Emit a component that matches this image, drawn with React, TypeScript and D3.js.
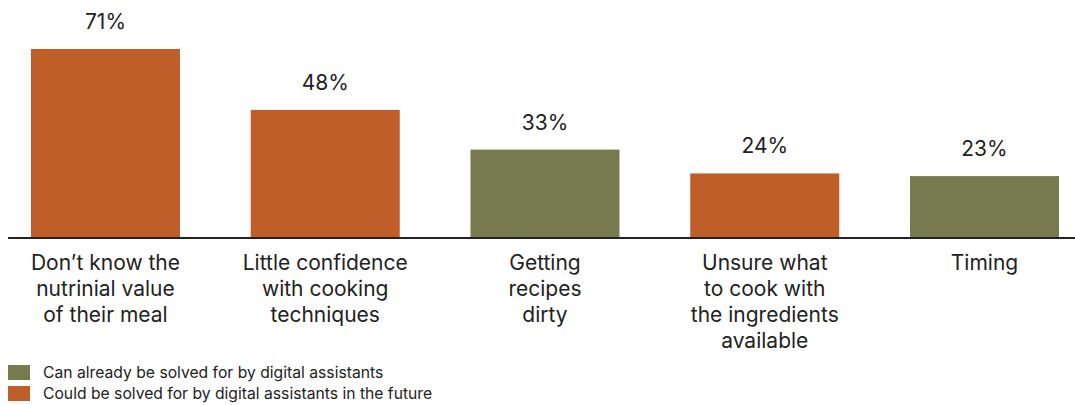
import React from "react";
import * as d3 from "d3";

const categories: string[][] = [
  ["Don\u2019t know the", "nutrinial value", "of their meal"],
  ["Little confidence", "with cooking", "techniques"],
  ["Getting", "recipes", "dirty"],
  ["Unsure what", "to cook with", "the ingredients", "available"],
  ["Timing"],
];
const values: number[] = [71, 48, 33, 24, 23];
const groups: number[] = [1, 1, 0, 1, 0]; // 0 = already, 1 = future
const legendLabels: string[] = [
  "Can already be solved for by digital assistants",
  "Could be solved for by digital assistants in the future",
];
const colors = ["#767A4E", "#C05E2A"];

const W = 1075;
const H = 405;
const FONT = "Inter, 'Noto Sans', sans-serif";

export default function App() {
  const x = d3
    .scaleBand<number>()
    .domain(values.map((_, i) => i))
    .range([-4.4, 1094.4])
    .paddingInner(0.322)
    .paddingOuter(0.161);
  const baseY = 237;
  const y = d3.scaleLinear().domain([0, 71]).range([baseY, 49]);

  return (
    <svg
      width={W}
      height={H}
      style={{ position: "absolute", left: 0, top: 0, display: "block" }}
      fontFamily={FONT}
    >
      <rect width={W} height={H} fill="#fff" />
      {values.map((v, i) => (
        <g key={i}>
          <rect
            x={x(i)}
            y={y(v)}
            width={x.bandwidth()}
            height={baseY - y(v)}
            fill={colors[groups[i]]}
          />
          <text
            x={(x(i) as number) + x.bandwidth() / 2}
            y={y(v) - 20}
            textAnchor="middle"
            fontSize={21}
            fill="#222"
          >
            {v}%
          </text>
          <text
            x={(x(i) as number) + x.bandwidth() / 2}
            y={270}
            textAnchor="middle"
            fontSize={21}
            fill="#222"
          >
            {categories[i].map((line, j) => (
              <tspan key={j} x={(x(i) as number) + x.bandwidth() / 2} dy={j === 0 ? 0 : 26}>
                {line}
              </tspan>
            ))}
          </text>
        </g>
      ))}
      <line x1={8} x2={W} y1={baseY + 1} y2={baseY + 1} stroke="#222" strokeWidth={2} />
      {legendLabels.map((l, i) => (
        <g key={i} transform={`translate(8, ${365 + i * 21})`}>
          <rect width={22} height={15} fill={colors[i]} />
          <text x={35} y={12.5} fontSize={15.7} fill="#222">
            {l}
          </text>
        </g>
      ))}
    </svg>
  );
}
